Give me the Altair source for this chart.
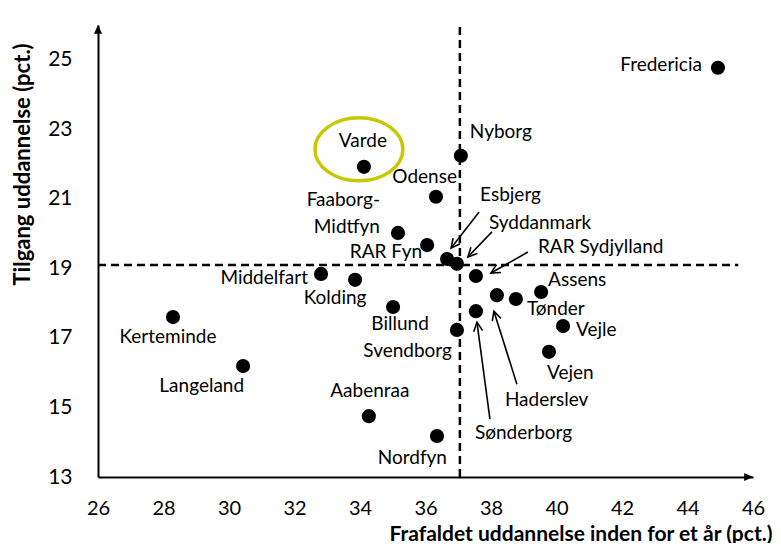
import math
import altair as alt
import pandas as pd

# ---------------- data ----------------
names = ["Fredericia", "Varde", "Nyborg", "Odense", "Faaborg-Midtfyn", "RAR Fyn",
         "Esbjerg", "Syddanmark", "RAR Sydjylland", "Middelfart", "Kolding", "Billund",
         "Svendborg", "Kerteminde", "Langeland", "Aabenraa", "Nordfyn", "Assens",
         "Tønder", "Vejle", "Vejen", "Haderslev", "Sønderborg"]
frafald = [44.93, 34.12, 37.08, 36.32, 35.16, 36.05,
           36.66, 36.96, 37.54, 32.81, 33.85, 35.01,
           36.96, 28.29, 30.43, 34.27, 36.35, 39.53,
           38.76, 40.20, 39.77, 38.18, 37.54]
tilgang = [24.77, 21.92, 22.24, 21.06, 20.02, 19.67,
           19.27, 19.13, 18.78, 18.84, 18.67, 17.89,
           17.23, 17.60, 16.19, 14.75, 14.18, 18.32,
           18.12, 17.34, 16.60, 18.23, 17.77]
x_ticks = [26, 28, 30, 32, 34, 36, 38, 40, 42, 44, 46]
y_ticks = [13, 15, 17, 19, 21, 23, 25]
x_split = 37.05   # dashed reference lines
y_split = 19.1
highlight = "Varde"

X_TITLE = "Frafaldet uddannelse inden for et år (pct.)"
Y_TITLE = "Tilgang uddannelse (pct.)"

# ---------------- layout ----------------
W, H = 655, 452
XD = [26, 46]
YD = [13, 26]
PXX = W / (XD[1] - XD[0])
PXY = H / (YD[1] - YD[0])
FONT = "Lato"

# label placement: text, align, dx, dy (pixels from the point)
LABELS = {
    "Fredericia": ("Fredericia", "right", -16, -3),
    "Varde": ("Varde", "center", -1, -26),
    "Nyborg": ("Nyborg", "left", 9, -24),
    "Odense": ("Odense", "right", 21, -20),
    "Faaborg-Midtfyn": ("Faaborg-\nMidtfyn", "right", -18, -33),
    "RAR Fyn": ("RAR Fyn", "right", -5, 7),
    "Esbjerg": ("Esbjerg", "left", 33, -64),
    "Syddanmark": ("Syddanmark", "left", 32, -41),
    "RAR Sydjylland": ("RAR Sydjylland", "left", 62, -29),
    "Middelfart": ("Middelfart", "right", -13, 4),
    "Kolding": ("Kolding", "center", -20, 18),
    "Billund": ("Billund", "center", 7, 17),
    "Svendborg": ("Svendborg", "right", -5, 21),
    "Kerteminde": ("Kerteminde", "center", -5, 20),
    "Langeland": ("Langeland", "right", 1, 20),
    "Aabenraa": ("Aabenraa", "center", 1, -25),
    "Nordfyn": ("Nordfyn", "right", 10, 22),
    "Assens": ("Assens", "left", 7, -12),
    "Tønder": ("Tønder", "left", 11, 10),
    "Vejle": ("Vejle", "left", 13, 4),
    "Vejen": ("Vejen", "left", -2, 21),
    "Haderslev": ("Haderslev", "left", 8, 105),
    "Sønderborg": ("Sønderborg", "left", -1, 122),
}
# arrows: tail dx, dy, tip dx, dy (pixels from the point)
ARROWS = {
    "Esbjerg": (32, -47, 4, -11),
    "Syddanmark": (35, -32, 11, -7),
    "RAR Sydjylland": (52, -24, 15, -3),
    "Haderslev": (20, 89, -3, 16),
    "Sønderborg": (14, 108, 1, 11),
}

df = pd.DataFrame({"name": names, "x": frafald, "y": tilgang})
df["label"] = [LABELS[n][0] for n in names]
pos = dict(zip(names, zip(frafald, tilgang)))

arr_rows = []
for n, (tx, ty, hx, hy) in ARROWS.items():
    px, py = pos[n]
    ang = math.degrees(math.atan2(hx - tx, -(hy - ty))) % 360
    arr_rows.append({"name": n,
                     "x": px + tx / PXX, "y": py - ty / PXY,
                     "x2": px + hx / PXX, "y2": py - hy / PXY,
                     "angle": ang})
arr_df = pd.DataFrame(arr_rows)

xs = alt.Scale(domain=XD, nice=False, zero=False)
ys = alt.Scale(domain=YD, nice=False, zero=False)

xaxis = alt.Axis(values=x_ticks, title=X_TITLE, grid=False, ticks=False, tickSize=0,
                 domainColor="black", domainWidth=2, labelFont=FONT, labelFontSize=20,
                 labelColor="black", labelPadding=31, labelBaseline="middle",
                 labelFlush=False, labelOverlap=False,
                 titleFont=FONT, titleFontSize=21, titleFontWeight="bold",
                 titleColor="black", titleAlign="right", titleX=674, titleY=63,
                 titleBaseline="alphabetic")
yaxis = alt.Axis(values=y_ticks, title=Y_TITLE, grid=False, ticks=False, tickSize=0,
                 domainColor="black", domainWidth=2, labelFont=FONT, labelFontSize=21,
                 labelColor="black", labelPadding=26, labelOverlap=False,
                 titleFont=FONT, titleFontSize=22, titleFontWeight="bold",
                 titleColor="black", titleAngle=270, titleAlign="left",
                 titleX=-76, titleY=260, titleBaseline="middle")

X = lambda f="x": alt.X(f"{f}:Q", scale=xs)
Y = lambda f="y": alt.Y(f"{f}:Q", scale=ys)

points = alt.Chart(df).mark_circle(size=200, color="black", opacity=1).encode(
    x=alt.X("x:Q", scale=xs, axis=xaxis), y=alt.Y("y:Q", scale=ys, axis=yaxis))

vline = alt.Chart(pd.DataFrame({"x": [x_split], "y": [YD[0]], "y2": [YD[1]]})).mark_rule(
    color="black", strokeWidth=2.5, strokeDash=[8, 5]).encode(x=X(), y=Y(), y2="y2:Q")
hline = alt.Chart(pd.DataFrame({"x": [XD[0]], "x2": [45.55], "y": [y_split]})).mark_rule(
    color="black", strokeWidth=2.5, strokeDash=[8, 5]).encode(x=X(), x2="x2:Q", y=Y())

axis_heads = alt.Chart(pd.DataFrame({"x": [XD[0], XD[1]], "y": [YD[1], YD[0]],
                                     "angle": [0, 90]})).mark_point(
    shape="M0,0L-0.5,1.1L0.5,1.1Z", filled=True, color="black", opacity=1, size=256
).encode(x=X(), y=Y(), angle=alt.Angle("angle:Q", scale=None))

arrow_lines = alt.Chart(arr_df).mark_rule(color="black", strokeWidth=1.6).encode(
    x=X(), y=Y(), x2="x2:Q", y2="y2:Q")
arrow_heads = alt.Chart(arr_df).mark_point(
    shape="M-0.5,1L0,0L0.5,1", filled=False, color="black", strokeWidth=1.6,
    opacity=1, size=324).encode(x=X("x2"), y=Y("y2"),
                                angle=alt.Angle("angle:Q", scale=None))

hx, hy = pos[highlight]
ring = alt.Chart(pd.DataFrame({"x": [hx - 5 / PXX], "y": [hy + 17.5 / PXY]})).mark_point(
    shape="M-1,0A1,0.716 0 1 1 1,0A1,0.716 0 1 1 -1,0Z", filled=False,
    color="#c8c800", strokeWidth=3.5, opacity=1, size=7744).encode(x=X(), y=Y())

label_layers = []
for n in names:
    _, al, dx, dy = LABELS[n]
    label_layers.append(
        alt.Chart(df).transform_filter(alt.datum.name == n).mark_text(
            align=al, baseline="middle", dx=dx, dy=dy, font=FONT, fontSize=19,
            color="black", lineBreak="\n", lineHeight=27
        ).encode(x=X(), y=Y(), text="label:N"))

chart = alt.layer(vline, hline, axis_heads, arrow_lines, arrow_heads, ring, points,
                  *label_layers).properties(
    width=W, height=H,
    autosize=alt.AutoSizeParams(type="none"),
    padding={"left": 90, "top": 17, "right": 20, "bottom": 66},
    background="white",
).configure_view(stroke=None)

chart.save("out.html", embed_options={"renderer": "svg", "actions": False})
